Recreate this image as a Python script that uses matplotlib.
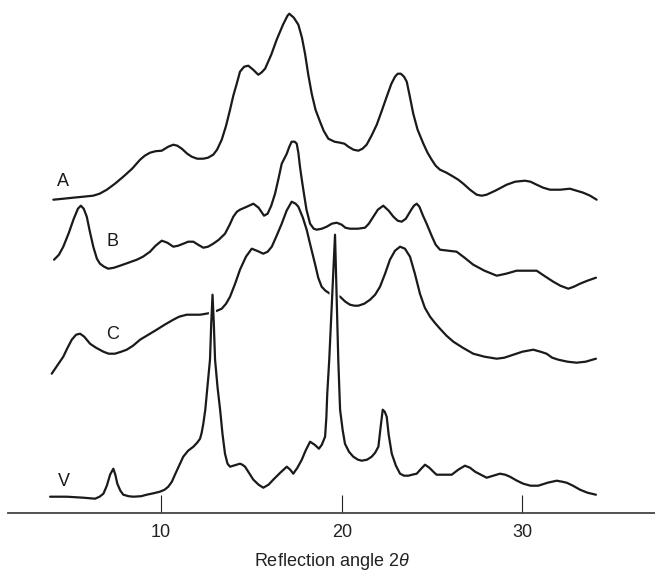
import matplotlib
matplotlib.use('Agg')
import matplotlib.pyplot as plt
import matplotlib.patheffects as pe

plt.rcParams['font.family'] = ['Liberation Sans', 'DejaVu Sans']
plt.rcParams['mathtext.fontset'] = 'custom'
plt.rcParams['mathtext.rm'] = 'Liberation Sans'
plt.rcParams['mathtext.it'] = 'Liberation Sans:italic'

# diffraction traces as (2theta, intensity) pairs, stacked, arbitrary units
A_pts = [(4.04, 313), (4.6, 314), (5.13, 315), (5.7, 316), (6.24, 317), (6.6, 319), (7.0, 323),
         (7.45, 329), (7.91, 336), (8.4, 344), (8.84, 353), (9.1, 357), (9.39, 360), (9.7, 361.5),
         (10.04, 362), (10.4, 366), (10.68, 368), (10.9, 367), (11.15, 364), (11.45, 359),
         (11.7, 356), (12.0, 354), (12.34, 354), (12.6, 355), (12.89, 358), (13.1, 363),
         (13.36, 373), (13.6, 387), (13.82, 403), (14.0, 417), (14.19, 429), (14.37, 441),
         (14.6, 446), (14.83, 447), (15.1, 443), (15.38, 438), (15.55, 440), (15.76, 444),
         (16.1, 458), (16.4, 473), (16.75, 488), (17.0, 497), (17.1, 499), (17.35, 495),
         (17.6, 488), (17.8, 475), (17.97, 459), (18.15, 438), (18.34, 419), (18.55, 403),
         (18.8, 391), (19.0, 382), (19.26, 374), (19.6, 371), (19.91, 370), (20.15, 369),
         (20.37, 366), (20.65, 363), (20.92, 362), (21.15, 364), (21.38, 368), (21.65, 377),
         (21.94, 388), (22.2, 401), (22.49, 416), (22.75, 429), (22.95, 436), (23.1, 439),
         (23.27, 439), (23.45, 436), (23.6, 431), (23.75, 418), (23.96, 399), (24.2, 383),
         (24.52, 369), (24.75, 360), (24.98, 353), (25.2, 347), (25.44, 343), (25.8, 340),
         (26.18, 336), (26.45, 333), (26.73, 329), (27.1, 323), (27.47, 318), (27.75, 317),
         (28.02, 318), (28.5, 322), (29.13, 328), (29.6, 331), (30.14, 332), (30.45, 331),
         (30.79, 328), (31.15, 325), (31.53, 323), (32.1, 323), (32.63, 324), (33.0, 322),
         (33.37, 320), (33.75, 317), (34.11, 313)]

B_pts = [(4.08, 253), (4.35, 258), (4.59, 266), (4.9, 280), (5.15, 293), (5.4, 304), (5.56, 307),
         (5.72, 304), (5.89, 296), (6.05, 282), (6.25, 266), (6.45, 254), (6.62, 249),
         (6.85, 246), (7.08, 244), (7.4, 245), (7.73, 247), (8.2, 250), (8.66, 253), (9.0, 256),
         (9.39, 261), (9.7, 267), (10.04, 272), (10.35, 270), (10.68, 266), (10.95, 267),
         (11.23, 269), (11.5, 271), (11.79, 271), (12.05, 268), (12.34, 265), (12.6, 266),
         (12.89, 269), (13.2, 273), (13.54, 279), (13.8, 288), (14.0, 296), (14.2, 301),
         (14.37, 303), (14.75, 306), (15.11, 309), (15.4, 305), (15.7, 297), (15.9, 299),
         (16.1, 307), (16.31, 319), (16.5, 334), (16.68, 349), (16.96, 359), (17.1, 366),
         (17.23, 371), (17.4, 371), (17.51, 369), (17.6, 360), (17.69, 346), (17.8, 332),
         (17.91, 319), (18.05, 303), (18.25, 289), (18.45, 284), (18.62, 283), (18.9, 284),
         (19.17, 286), (19.45, 289), (19.72, 290), (20.0, 288), (20.2, 285), (20.46, 284),
         (20.9, 284), (21.29, 285), (21.5, 289), (21.75, 296), (22.0, 303), (22.3, 307),
         (22.6, 302), (22.86, 296), (23.1, 292), (23.32, 291), (23.55, 294), (23.85, 303),
         (24.0, 307), (24.15, 309), (24.3, 306), (24.5, 297), (24.7, 289), (25.0, 276),
         (25.2, 268), (25.44, 263), (25.9, 262), (26.36, 261), (26.8, 255), (27.28, 248),
         (27.9, 242), (28.58, 237), (29.1, 239), (29.68, 242), (30.2, 242), (30.79, 242),
         (31.2, 237), (31.71, 231), (32.1, 227), (32.54, 224), (32.85, 226), (33.19, 229),
         (33.6, 232), (34.07, 235)]

C_pts = [(3.95, 139), (4.25, 147), (4.59, 156), (4.8, 164), (5.06, 173), (5.3, 178), (5.52, 179),
         (5.75, 176), (6.07, 169), (6.4, 165), (6.81, 161), (7.1, 159), (7.45, 159), (7.8, 161),
         (8.1, 163), (8.45, 167), (8.84, 173), (9.3, 178), (9.76, 183), (10.2, 188),
         (10.68, 193), (11.0, 196), (11.42, 198), (11.8, 198), (12.16, 198), (12.5, 199),
         (12.81, 200), (13.1, 202), (13.36, 204), (13.6, 209), (13.82, 216), (14.1, 229),
         (14.37, 243), (14.7, 256), (15.02, 264), (15.3, 262), (15.66, 259), (15.9, 261),
         (16.13, 266), (16.4, 277), (16.68, 289), (16.95, 302), (17.23, 311), (17.45, 309),
         (17.6, 306), (17.85, 295), (18.06, 283), (18.3, 265), (18.52, 249), (18.7, 235),
         (18.89, 226), (19.1, 222), (19.35, 219), (19.6, 218), (19.91, 216), (20.2, 211),
         (20.46, 208), (20.7, 207), (20.92, 207), (21.25, 209), (21.57, 213), (21.85, 218),
         (22.12, 226), (22.4, 239), (22.67, 253), (22.95, 262), (23.23, 266), (23.5, 264),
         (23.78, 256), (24.05, 239), (24.33, 219), (24.6, 205), (24.89, 196), (25.15, 190),
         (25.44, 184), (25.8, 177), (26.18, 171), (26.7, 165), (27.28, 159), (27.9, 156),
         (28.58, 154), (29.0, 155), (29.5, 158), (30.0, 161), (30.6, 163), (31.0, 161),
         (31.34, 159), (31.65, 155), (31.99, 153), (32.5, 151), (33.0, 150), (33.5, 151),
         (34.07, 154)]

V_pts = [(3.86, 16), (4.78, 16), (5.7, 15), (6.35, 14), (6.6, 16), (6.81, 19), (7.0, 27),
         (7.18, 38), (7.36, 44), (7.47, 38), (7.58, 29), (7.75, 22), (7.91, 18), (8.2, 16.5),
         (8.47, 16), (8.9, 16.5), (9.21, 18), (9.6, 19.5), (9.94, 21), (10.2, 23), (10.4, 26),
         (10.6, 31), (10.77, 38), (11.0, 47), (11.23, 56), (11.5, 62), (11.79, 66), (12.0, 70),
         (12.16, 74), (12.25, 80), (12.34, 89), (12.45, 103), (12.53, 119), (12.62, 136),
         (12.71, 153), (12.78, 190), (12.85, 218), (12.92, 190), (12.99, 153), (13.13, 125),
         (13.27, 103), (13.4, 79), (13.54, 59), (13.68, 49), (13.82, 46), (14.0, 47),
         (14.19, 48), (14.37, 49), (14.5, 48), (14.65, 46), (14.9, 39), (15.11, 33),
         (15.4, 28), (15.66, 25), (15.95, 28), (16.21, 33), (16.6, 40), (16.96, 46),
         (17.15, 43), (17.32, 39), (17.55, 45), (17.79, 53), (18.0, 62), (18.25, 71),
         (18.5, 68), (18.74, 64), (18.9, 68), (19.08, 76), (19.15, 95), (19.2, 119),
         (19.31, 153), (19.47, 215), (19.63, 278), (19.72, 215), (19.81, 153), (19.91, 103),
         (20.05, 83), (20.18, 69), (20.4, 61), (20.64, 56), (20.9, 53), (21.11, 52),
         (21.4, 53), (21.66, 56), (21.85, 60), (22.03, 66), (22.15, 85), (22.27, 103),
         (22.38, 101), (22.49, 96), (22.6, 78), (22.77, 59), (23.0, 47), (23.23, 39),
         (23.45, 37), (23.69, 37), (23.9, 38), (24.15, 39), (24.4, 44), (24.61, 48),
         (24.85, 45), (25.07, 41), (25.25, 38), (25.44, 38), (25.8, 38), (26.09, 38),
         (26.45, 43), (26.82, 47), (27.1, 45), (27.38, 41), (27.7, 38), (28.02, 35),
         (28.4, 37), (28.76, 39), (29.05, 38), (29.31, 36), (29.7, 32), (30.05, 29),
         (30.45, 27), (30.88, 27), (31.4, 30), (31.9, 32), (32.2, 31), (32.45, 30),
         (32.8, 27), (33.19, 23), (33.6, 20), (34.07, 18)]

labels = ['A', 'B', 'C', 'V']
xticks = [10, 20, 30]

fig = plt.figure(figsize=(6.55, 5.81), dpi=100)
ax = fig.add_axes([8 / 655, 68.3 / 581, 647 / 655, 512.7 / 581])

line_kw = dict(color='#1a1a1a', lw=1.6, solid_joinstyle='round', solid_capstyle='round')
for pts in [A_pts, B_pts, C_pts]:
    xs, ys = zip(*pts)
    ax.plot(xs, ys, **line_kw)
# V goes over C with a thin white halo where the sharp peaks cross it
vx, vy = zip(*V_pts)
ax.plot(vx, vy, zorder=3,
        path_effects=[pe.Stroke(linewidth=4, foreground='white'), pe.Normal()], **line_kw)

# curve labels
lab_kw = dict(fontsize=13, ha='center', va='center', color='#1a1a1a')
ax.text(4.59, 331, labels[0], **lab_kw)
ax.text(7.33, 271, labels[1], **lab_kw)
ax.text(7.33, 178, labels[2], **lab_kw)
ax.text(4.65, 31, labels[3], **lab_kw)

ax.set_xlim(1.53, 37.34)
ax.set_ylim(0, 512.7)
ax.set_xticks(xticks)
ax.set_yticks([])
ax.tick_params(axis='x', direction='in', length=13, width=0.8, pad=8,
               labelsize=13, colors='#222222')
for s in ['top', 'left', 'right']:
    ax.spines[s].set_visible(False)
ax.spines['bottom'].set_linewidth(1.3)
ax.spines['bottom'].set_color('#444444')
ax.set_xlabel(r'Reflection angle 2$\mathit{\theta}$', fontsize=13, labelpad=7, color='#222222')

fig.savefig('out.png', dpi=100)
